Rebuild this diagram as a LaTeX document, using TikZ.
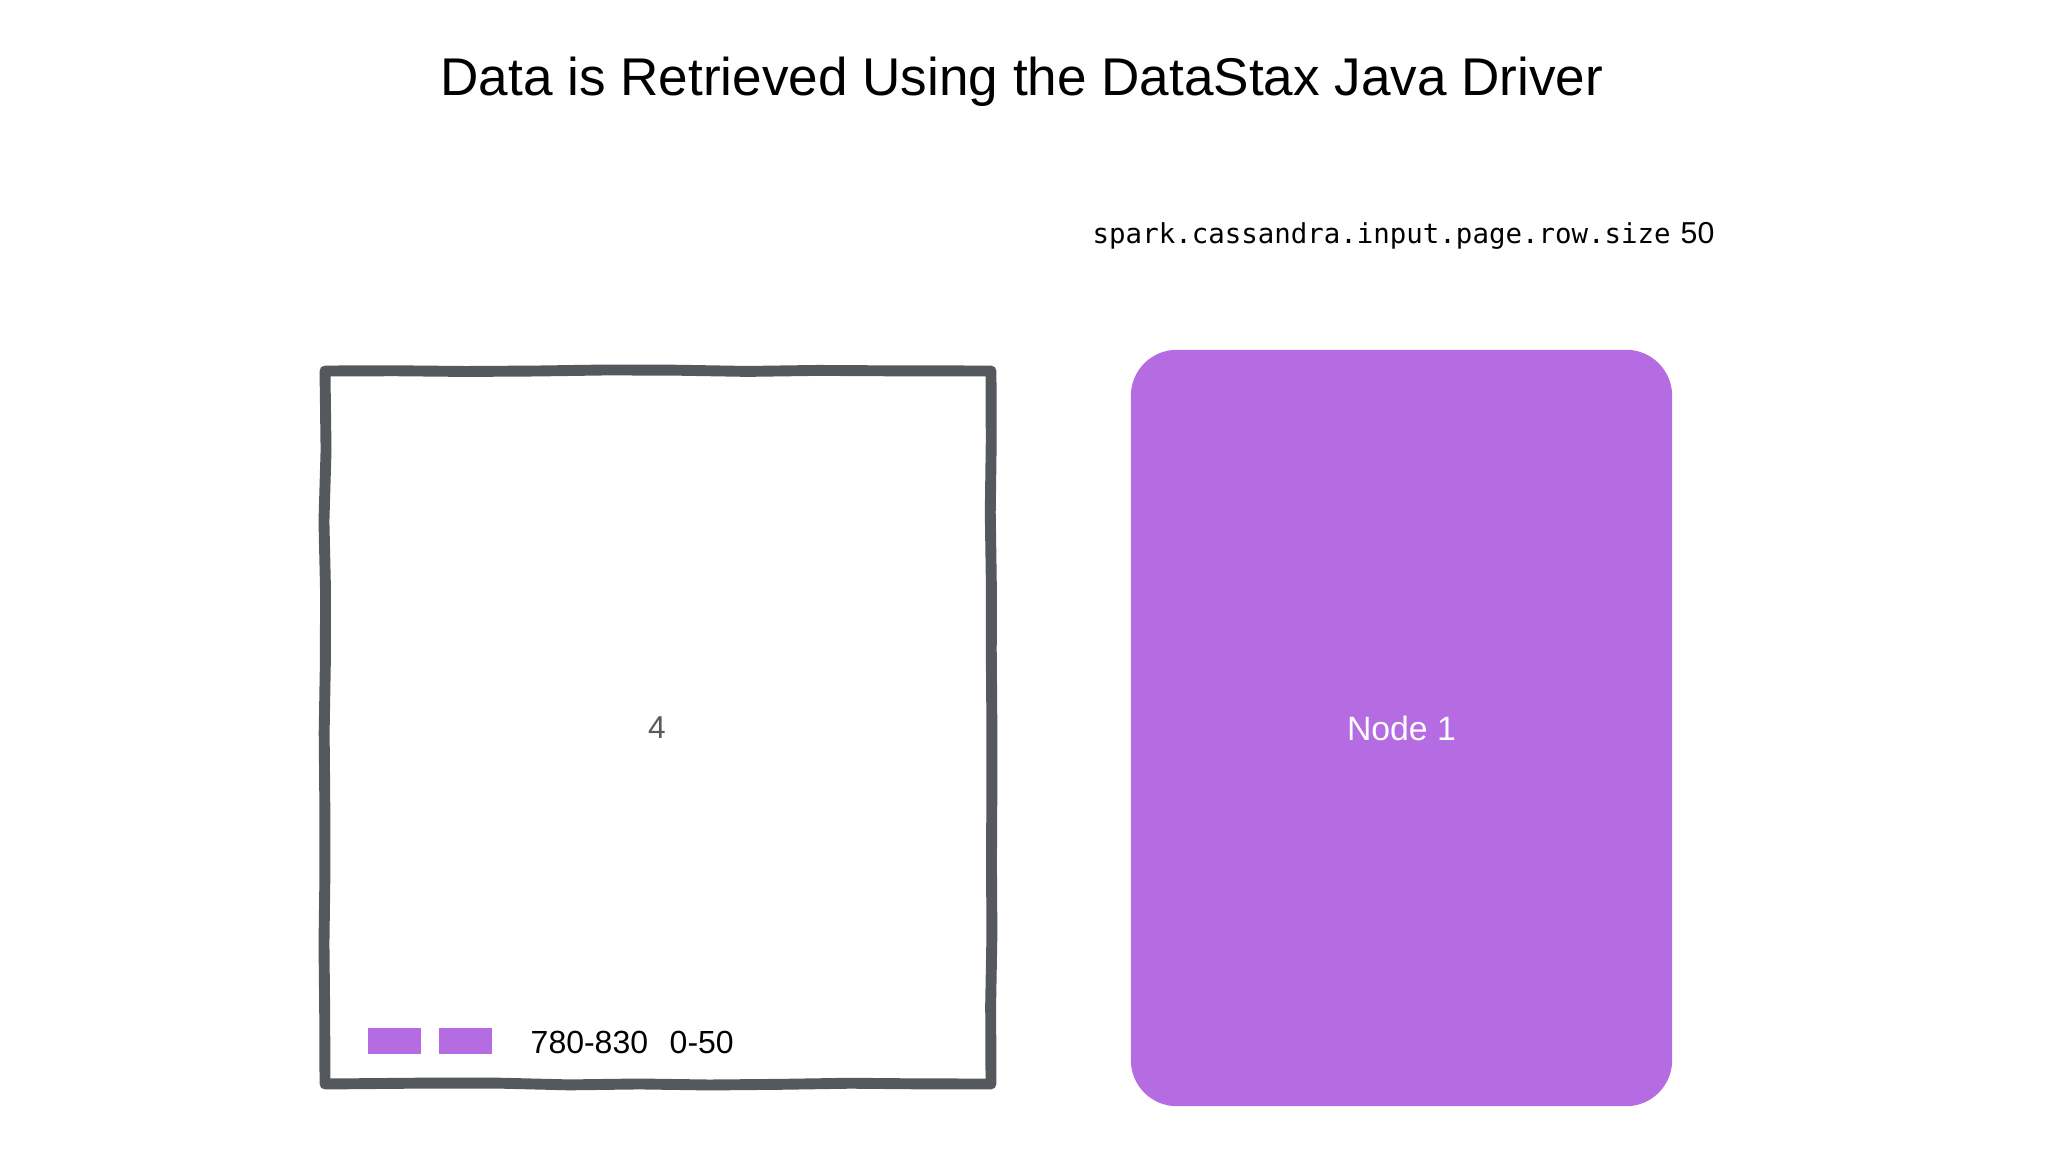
\documentclass[tikz,border=0pt]{standalone}
\usepackage{fontspec}
\setmainfont{Liberation Sans}
\setmonofont{DejaVu Sans Mono}
\usetikzlibrary{decorations.pathmorphing}
\definecolor{partpurple}{HTML}{B56BE1}
\definecolor{edgegray}{HTML}{55585C}
\definecolor{labelgray}{HTML}{5A5A5A}
\newcommand{\edgewidth}{3.1pt}
\newcommand{\blob}{0.075}

\begin{document}
\begin{tikzpicture}[x=0.01cm,y=-0.01cm]
\useasboundingbox (0,0) rectangle (2048,1152);
\pgfmathsetseed{7}
%title
\node[anchor=base] (title) at (1022,96) {\fontsize{15.1}{17}\selectfont Data is Retrieved Using the DataStax Java Driver};
\node[anchor=base west, inner sep=0] (conf) at (1092,244) {\fontsize{7.8}{9}\selectfont\ttfamily spark.cassandra.input.page.row.size};
\node[anchor=base west, inner sep=0] (confval) at (1680,244) {\fontsize{8.6}{10}\selectfont 50};
%partition box
\coordinate (tl) at (325,371);
\coordinate (tr) at (991,371);
\coordinate (br) at (991,1084);
\coordinate (bl) at (325,1084);
\draw[edgegray, line width=\edgewidth, line join=round, line cap=round,
  decorate, decoration={random steps, segment length=20pt, amplitude=0.3pt}]
  (tl) -- (tr) -- (br) -- (bl) -- cycle;
\fill[edgegray] (tl) circle (\blob);
\fill[edgegray] (tr) circle (\blob);
\fill[edgegray] (br) circle (\blob);
\fill[edgegray] (bl) circle (\blob);
\node[text=labelgray] (count) at (657,728) {\fontsize{9}{11}\selectfont 4};
%rows
\node[fill=partpurple, minimum width=0.53cm, minimum height=0.25cm, inner sep=0] (row1) at (394.5,1041) {};
\node[fill=partpurple, minimum width=0.53cm, minimum height=0.25cm, inner sep=0] (row2) at (465.5,1041) {};
\node[anchor=base west, inner sep=0] (range1) at (530,1053) {\fontsize{9.1}{11}\selectfont 780-830};
\node[anchor=base west, inner sep=0] (range2) at (669,1053) {\fontsize{9.1}{11}\selectfont 0-50};
%cassandra node
\node[fill=partpurple, rounded corners=0.46cm, minimum width=5.41cm, minimum height=7.56cm, text=white] (node1) at (1401.5,728) {\fontsize{9.6}{11}\selectfont Node 1};
\end{tikzpicture}
\end{document}
